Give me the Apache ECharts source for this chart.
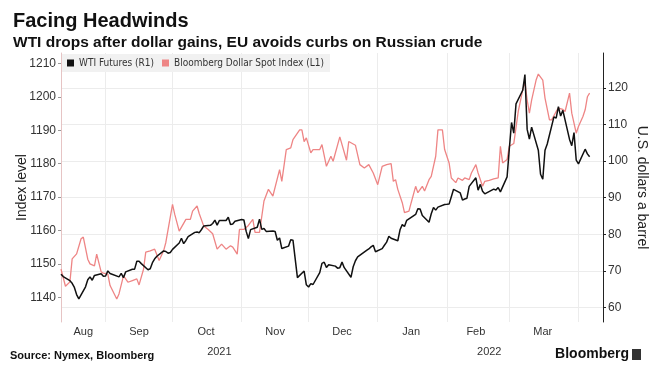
<!DOCTYPE html>
<html><head><meta charset="utf-8">
<script src="https://cdn.jsdelivr.net/npm/echarts@6/dist/echarts.min.js"></script>
<style>html,body{margin:0;padding:0;background:#fff}#c{width:663px;height:382px}</style>
</head><body><div id="c"></div>
<script>
// ---------------- DATA ----------------
const wtiDates = ['2021-08-12','2021-08-13','2021-08-16','2021-08-17','2021-08-18','2021-08-19','2021-08-20','2021-08-23','2021-08-24','2021-08-25','2021-08-26','2021-08-27','2021-08-30','2021-08-31',
'2021-09-01','2021-09-02','2021-09-03','2021-09-07','2021-09-08','2021-09-09','2021-09-10','2021-09-13','2021-09-14','2021-09-15','2021-09-16','2021-09-17','2021-09-20','2021-09-21','2021-09-22','2021-09-23','2021-09-24','2021-09-27','2021-09-28','2021-09-29','2021-09-30',
'2021-10-01','2021-10-04','2021-10-05','2021-10-06','2021-10-07','2021-10-08','2021-10-11','2021-10-12','2021-10-13','2021-10-14','2021-10-15','2021-10-18','2021-10-19','2021-10-20','2021-10-21','2021-10-22','2021-10-25','2021-10-26','2021-10-27','2021-10-28','2021-10-29',
'2021-11-01','2021-11-02','2021-11-03','2021-11-04','2021-11-05','2021-11-08','2021-11-09','2021-11-10','2021-11-11','2021-11-12','2021-11-15','2021-11-16','2021-11-17','2021-11-18','2021-11-19','2021-11-22','2021-11-23','2021-11-24','2021-11-26','2021-11-29','2021-11-30',
'2021-12-01','2021-12-02','2021-12-03','2021-12-06','2021-12-07','2021-12-08','2021-12-09','2021-12-10','2021-12-13','2021-12-14','2021-12-15','2021-12-16','2021-12-17','2021-12-20','2021-12-21','2021-12-22','2021-12-23','2021-12-27','2021-12-28','2021-12-29','2021-12-30','2021-12-31',
'2022-01-03','2022-01-04','2022-01-05','2022-01-06','2022-01-07','2022-01-10','2022-01-11','2022-01-12','2022-01-13','2022-01-14','2022-01-18','2022-01-19','2022-01-20','2022-01-21','2022-01-24','2022-01-25','2022-01-26','2022-01-27','2022-01-28','2022-01-31',
'2022-02-01','2022-02-02','2022-02-03','2022-02-04','2022-02-07','2022-02-08','2022-02-09','2022-02-10','2022-02-11','2022-02-14','2022-02-15','2022-02-16','2022-02-17','2022-02-18','2022-02-22','2022-02-23','2022-02-24','2022-02-25','2022-02-28',
'2022-03-01','2022-03-02','2022-03-03','2022-03-04','2022-03-07','2022-03-08','2022-03-09','2022-03-10','2022-03-11','2022-03-14','2022-03-15','2022-03-16','2022-03-17','2022-03-18','2022-03-21','2022-03-22','2022-03-23','2022-03-24','2022-03-25','2022-03-28','2022-03-29','2022-03-30','2022-03-31',
'2022-04-01','2022-04-04','2022-04-05','2022-04-06'];
const wtiValues = [69.09,68.44,67.29,66.59,65.46,63.50,62.32,65.64,67.54,68.36,67.42,68.74,69.21,68.50,
68.59,69.99,69.29,68.35,69.30,68.14,69.72,70.45,70.46,72.61,72.61,71.97,70.29,70.56,72.23,73.30,73.98,75.45,75.29,74.83,75.03,
75.88,77.62,78.93,77.43,78.30,79.35,80.52,80.64,80.44,81.31,82.28,82.44,82.96,83.87,82.50,83.76,83.76,84.65,82.66,82.81,83.57,
84.05,83.91,80.86,78.81,81.27,81.93,84.15,81.34,81.59,80.79,80.88,80.76,78.36,79.01,76.10,76.75,78.50,78.39,68.15,69.95,66.18,
65.57,66.50,66.26,69.49,72.05,72.36,70.94,71.67,71.29,70.73,70.87,72.38,70.86,68.23,71.12,72.76,73.79,75.57,75.98,76.56,76.99,75.21,
76.08,76.99,77.85,79.46,78.90,78.23,81.22,82.64,82.12,83.82,85.43,86.96,86.90,85.14,83.31,85.60,87.35,86.61,87.44,88.15,
88.20,88.26,90.27,92.31,91.32,89.36,89.66,89.88,93.10,95.46,92.07,93.66,91.76,91.07,92.35,92.10,92.81,91.59,95.72,
103.41,110.60,107.67,115.68,119.40,123.70,108.70,106.02,109.33,103.01,96.44,95.04,102.98,104.70,112.12,111.76,114.93,112.34,113.90,105.96,104.24,107.82,100.28,
99.27,103.28,102.0,101.2];

const dollarDates = ['2021-08-12','2021-08-14','2021-08-16','2021-08-17','2021-08-19','2021-08-21','2021-08-22','2021-08-24','2021-08-25','2021-08-27','2021-08-28','2021-08-30','2021-08-31',
'2021-09-02','2021-09-03','2021-09-06','2021-09-07','2021-09-09','2021-09-10','2021-09-11','2021-09-13','2021-09-15','2021-09-16','2021-09-18','2021-09-19','2021-09-21','2021-09-23','2021-09-25','2021-09-27','2021-09-28',
'2021-10-01','2021-10-02','2021-10-04','2021-10-07','2021-10-09','2021-10-10','2021-10-12','2021-10-13','2021-10-15','2021-10-17','2021-10-19','2021-10-21','2021-10-23','2021-10-25','2021-10-27','2021-10-28','2021-10-30','2021-10-31',
'2021-11-02','2021-11-04','2021-11-06','2021-11-07','2021-11-09','2021-11-11','2021-11-13','2021-11-15','2021-11-18','2021-11-19','2021-11-21','2021-11-23','2021-11-24','2021-11-27','2021-11-28','2021-11-29','2021-11-30',
'2021-12-02','2021-12-03','2021-12-06','2021-12-07','2021-12-09','2021-12-11','2021-12-12','2021-12-15','2021-12-18','2021-12-19','2021-12-22','2021-12-24','2021-12-26','2021-12-28','2021-12-30',
'2022-01-01','2022-01-03','2022-01-05','2022-01-07','2022-01-08','2022-01-09','2022-01-10','2022-01-12','2022-01-13','2022-01-15','2022-01-16','2022-01-18','2022-01-19','2022-01-21','2022-01-22','2022-01-24','2022-01-25','2022-01-27','2022-01-28','2022-01-30','2022-01-31',
'2022-02-02','2022-02-03','2022-02-05','2022-02-06','2022-02-08','2022-02-09','2022-02-11','2022-02-12','2022-02-14','2022-02-15','2022-02-17','2022-02-18','2022-02-20','2022-02-22','2022-02-24','2022-02-25','2022-02-26','2022-02-28',
'2022-03-01','2022-03-03','2022-03-05','2022-03-07','2022-03-08','2022-03-09','2022-03-10','2022-03-11','2022-03-13','2022-03-14','2022-03-16','2022-03-17','2022-03-19','2022-03-20','2022-03-22','2022-03-23','2022-03-25','2022-03-26','2022-03-28','2022-03-29','2022-03-31',
'2022-04-01','2022-04-03','2022-04-04','2022-04-05','2022-04-06'];
const dollarValues = [1148.4,1143.3,1144.6,1151.5,1153.0,1157.5,1158.0,1151.4,1150.0,1149.4,1152.9,1147.6,1147.2,
1146.9,1143.5,1139.5,1141.0,1146.4,1145.5,1144.5,1145.0,1145.5,1143.7,1148.4,1153.5,1153.9,1154.4,1151.0,1153.9,1156.4,
1167.8,1164.8,1159.8,1163.3,1163.3,1165.8,1167.3,1165.0,1161.3,1160.3,1159.0,1154.4,1155.9,1154.4,1155.4,1155.0,1152.9,1160.3,
1160.3,1161.5,1163.3,1159.4,1159.4,1168.8,1172.3,1170.3,1178.2,1174.7,1184.2,1184.7,1187.2,1190.1,1190.1,1186.6,1187.7,
1183.2,1184.2,1184.2,1185.7,1179.2,1182.2,1180.7,1188.0,1181.0,1186.6,1185.5,1179.7,1178.7,1179.7,1177.2,
1173.7,1179.2,1179.7,1180.0,1174.7,1175.2,1172.3,1168.3,1165.3,1165.8,1168.3,1173.2,1171.3,1173.2,1171.8,1175.2,1176.2,1182.2,1190.1,1190.1,1184.2,
1180.2,1175.7,1174.3,1175.7,1175.0,1175.7,1175.2,1177.2,1179.7,1177.2,1173.2,1174.7,1175.0,1175.4,1175.7,1185.2,1180.2,1181.2,
1185.2,1186.0,1195.6,1202.0,1204.5,1199.0,1195.1,1199.0,1205.0,1206.8,1205.0,1199.6,1193.1,1193.1,1195.6,1196.6,1196.2,1195.6,1201.1,1195.1,1189.1,
1191.1,1194.1,1196.1,1200.0,1201.1];

const monthLabelDates = ['2021-08-22','2021-09-16','2021-10-16','2021-11-16','2021-12-16','2022-01-16','2022-02-14','2022-03-16'];
const monthLabels = ['Aug','Sep','Oct','Nov','Dec','Jan','Feb','Mar'];
const monthStartDates = ['2021-09-01','2021-10-01','2021-11-01','2021-12-01','2022-01-01','2022-02-01','2022-03-01','2022-04-01'];
const yearLabelDates = ['2021-10-22','2022-02-20'];
const yearLabels = ['2021','2022'];
const leftTicks = [1140,1150,1160,1170,1180,1190,1200,1210];
const rightTicks = [60,70,80,90,100,110,120];
const axisStart = '2021-08-12';
const axisEnd = '2022-04-12';

// ---------------- BUILD ----------------
const t = s => new Date(s + 'T00:00:00').getTime();
const monthMap = {}; monthLabelDates.forEach((d, i) => monthMap[t(d)] = monthLabels[i]);
const yearMap = {}; yearLabelDates.forEach((d, i) => yearMap[t(d)] = yearLabels[i]);
const wtiData = wtiDates.map((d, i) => [t(d), wtiValues[i]]);
const dollarData = dollarDates.map((d, i) => [t(d), dollarValues[i]]);
const FONT = "'Liberation Sans', 'DejaVu Sans', sans-serif";
const NARROW = "'Liberation Sans Narrow', 'DejaVu Sans Condensed', 'Liberation Sans', sans-serif";

const chart = echarts.init(document.getElementById('c'), null, {renderer: 'canvas'});
chart.setOption({
  animation: false,
  backgroundColor: '#fff',
  textStyle: {fontFamily: FONT},
  title: {
    text: 'Facing Headwinds',
    subtext: 'WTI drops after dollar gains, EU avoids curbs on Russian crude',
    left: 8, top: 6, itemGap: 4,
    textStyle: {fontSize: 20, fontWeight: 'bold', color: '#111', fontFamily: FONT},
    subtextStyle: {fontSize: 15.5, fontWeight: 'bold', color: '#111', fontFamily: FONT}
  },
  legend: {
    data: ['WTI Futures (R1)', 'Bloomberg Dollar Spot Index (L1)'],
    left: 62, top: 54, orient: 'horizontal',
    backgroundColor: '#f1f1f1', padding: [4, 6, 4, 5],
    icon: 'rect', itemWidth: 7, itemHeight: 7, itemGap: 8,
    textStyle: {fontSize: 10, color: '#333', fontFamily: NARROW}
  },
  grid: {left: 61, right: 60, top: 53, bottom: 60, containLabel: false, outerBoundsMode: 'none'},
  xAxis: [{
    type: 'value', min: t(axisStart), max: t(axisEnd),
    axisLine: {show: false},
    axisTick: {show: false, customValues: monthStartDates.map(t)},
    splitLine: {show: true, lineStyle: {color: '#ececec', width: 1}},
    axisLabel: {customValues: monthLabelDates.map(t), formatter: v => monthMap[v] || '', margin: 4,
      fontSize: 11, color: '#333', fontFamily: FONT}
  }, {
    type: 'value', min: t(axisStart), max: t(axisEnd), position: 'bottom',
    axisLine: {show: false}, axisTick: {show: false}, splitLine: {show: false},
    axisLabel: {customValues: yearLabelDates.map(t), formatter: v => yearMap[v] || '', margin: 24,
      fontSize: 11, color: '#333', fontFamily: FONT}
  }],
  yAxis: [{
    type: 'value', position: 'left', min: 1132.6, max: 1213.1,
    name: 'Index level', nameLocation: 'middle', nameGap: 32, nameRotate: 90, nameMoveOverlap: false,
    nameTextStyle: {fontSize: 14, color: '#222', fontFamily: FONT},
    axisLine: {show: true, lineStyle: {color: '#e6c4c4', width: 1}},
    axisTick: {show: true, length: 3, customValues: leftTicks, lineStyle: {color: '#999'}},
    axisLabel: {customValues: leftTicks, formatter: v => String(v), margin: 5, fontSize: 12, color: '#333', fontFamily: FONT},
    splitLine: {show: false}
  }, {
    type: 'value', position: 'right', min: 56.0, max: 129.6,
    name: 'U.S. dollars a barrel', nameLocation: 'middle', nameGap: 32, nameRotate: -90, nameMoveOverlap: false,
    nameTextStyle: {fontSize: 14, color: '#222', fontFamily: FONT},
    axisLine: {show: true, lineStyle: {color: '#222', width: 1}},
    axisTick: {show: true, length: 3, customValues: rightTicks, lineStyle: {color: '#222'}},
    axisLabel: {customValues: rightTicks, formatter: v => String(v), margin: 5, fontSize: 12, color: '#333', fontFamily: FONT},
    splitLine: {show: true, lineStyle: {color: '#ececec', width: 1}}
  }],
  series: [{
    name: 'Bloomberg Dollar Spot Index (L1)', type: 'line', xAxisIndex: 0, yAxisIndex: 0,
    data: dollarData, showSymbol: false, color: '#ee8585',
    lineStyle: {width: 1.3, color: '#ee8585'}
  }, {
    name: 'WTI Futures (R1)', type: 'line', xAxisIndex: 0, yAxisIndex: 1,
    data: wtiData, showSymbol: false, color: '#111',
    lineStyle: {width: 1.5, color: '#111'}
  }],
  graphic: [
    {type: 'text', left: 10, top: 350, style: {text: 'Source: Nymex, Bloomberg', font: "bold 11px " + FONT, fill: '#111'}},
    {type: 'text', right: 34, top: 347, style: {text: 'Bloomberg', font: "bold 14px " + FONT, fill: '#111'}},
    {type: 'rect', right: 22, top: 349, shape: {width: 9, height: 11}, style: {fill: '#333'}}
  ]
});
</script>
</body></html>
